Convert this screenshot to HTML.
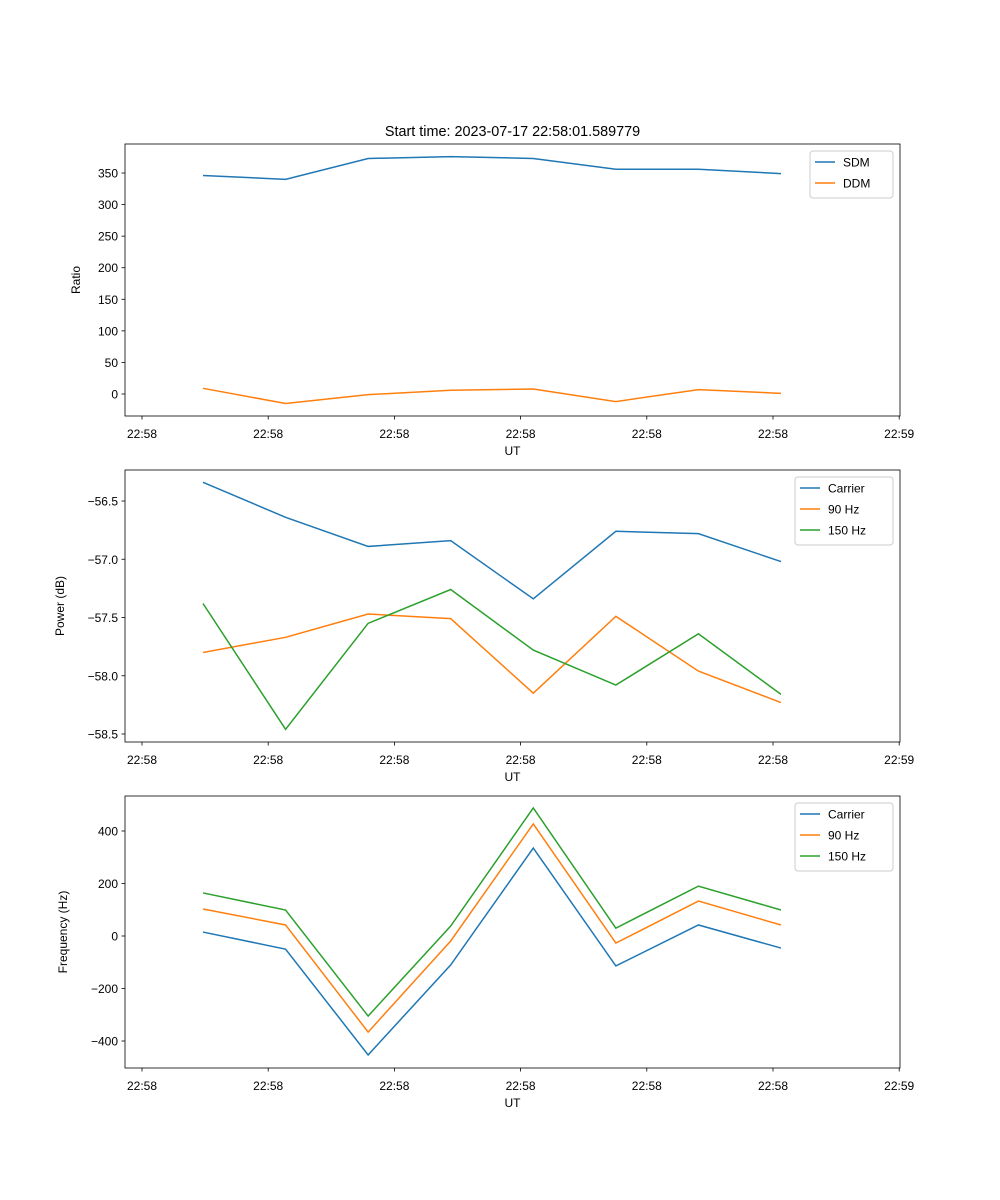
<!DOCTYPE html>
<html><head><meta charset="utf-8"><style>
body{margin:0;background:#fff}
svg{display:block;font-family:"Liberation Sans","DejaVu Sans",sans-serif}
</style></head><body>
<svg id="fig" width="1000" height="1200" viewBox="0 0 1000 1200" xmlns="http://www.w3.org/2000/svg"></svg>
<script>
const timeIndex=[0,1,2,3,4,5,6,7];
const xTickLabels=["22:58","22:58","22:58","22:58","22:58","22:58","22:59"];
const sdm=[346,340,373,376,373,356,356,349];
const ddm=[9,-15,-1,6,8,-12,7,1];
const powCarrier=[-56.34,-56.64,-56.89,-56.84,-57.34,-56.76,-56.78,-57.02];
const pow90=[-57.80,-57.67,-57.47,-57.51,-58.15,-57.49,-57.96,-58.23];
const pow150=[-57.38,-58.46,-57.55,-57.26,-57.78,-58.08,-57.64,-58.16];
const freqCarrier=[15,-50,-453,-110,335,-114,42,-46];
const freq90=[103,42,-366,-19,427,-27,133,42];
const freq150=[164,99,-305,38,488,30,190,99];
const ticks1=[0,50,100,150,200,250,300,350];
const ticks2=[-56.5,-57.0,-57.5,-58.0,-58.5];
const ticks3=[400,200,0,-200,-400];

const NS="http://www.w3.org/2000/svg";
const svg=document.getElementById('fig');
function el(tag,attrs,parent){const e=document.createElementNS(NS,tag);for(const k in attrs)e.setAttribute(k,attrs[k]);(parent||svg).appendChild(e);return e;}
const L=125,R=900;
const xs=i=>203+i*82.57;
const tickIdx=k=>(142-203)/82.57+k*1.5284;
const C={b:"#1f77b4",o:"#ff7f0e",g:"#2ca02c"};

function panel(name,top,bot,ys,yticks,fmt,ylabel,series,legend){
  const g=el('g',{});
  
  
  series.forEach(s=>{
    const p=el('polyline',{points:s.v.map((v,i)=>xs(timeIndex[i])+','+ys(v)).join(' '),fill:'none',stroke:s.c,'stroke-width':1.5},g);
    
    
  });
  const ax=el('rect',{x:L,y:top,width:R-L,height:bot-top,fill:'none',stroke:'#000','stroke-width':0.8},g);
  
  
  xTickLabels.forEach((t,k)=>{
    const x=xs(tickIdx(k));
    el('line',{x1:x,x2:x,y1:bot,y2:bot+3.5,stroke:'#000','stroke-width':0.8},g);
    const tx=el('text',{x:x,y:bot+22,'font-size':12,'text-anchor':'middle'},g);tx.textContent=t;
    
    
  });
  const xl=el('text',{x:(L+R)/2,y:bot+39,'font-size':12,'text-anchor':'middle'},g);xl.textContent='UT';
  
  
  yticks.forEach(v=>{
    const y=ys(v);
    el('line',{x1:L-3.5,x2:L,y1:y,y2:y,stroke:'#000','stroke-width':0.8},g);
    const tx=el('text',{x:L-7,y:y+4.5,'font-size':12,'text-anchor':'end'},g);tx.textContent=fmt(v);
    
    
  });
  const yl=el('text',{x:0,y:0,'font-size':12,'text-anchor':'middle',transform:`translate(${legend.yx},${(top+bot)/2}) rotate(-90)`},g);yl.textContent=ylabel;
  
  
  const lg=el('g',{},g);
  
  
  el('rect',{x:legend.x,y:top+7,width:R-7-legend.x,height:series.length*21+5,rx:3,fill:'#fff','fill-opacity':0.8,stroke:'#ccc'},lg);
  series.forEach((s,i)=>{
    const y=top+18+i*21;
    el('line',{x1:legend.x+5,x2:legend.x+25,y1:y,y2:y,stroke:s.c,'stroke-width':1.5},lg);
    const t=el('text',{x:legend.x+33,y:y+4.5,'font-size':12},lg);t.textContent=s.n;
    
    
  });
}
const t=el('text',{x:512.5,y:136,'font-size':14.4,'text-anchor':'middle'});t.textContent='Start time: 2023-07-17 22:58:01.589779';



panel('ratio',144,416,v=>394-v*31.57/50,ticks1,v=>String(v).replace('-','−'),'Ratio',
  [{n:'SDM',v:sdm,c:C.b},{n:'DDM',v:ddm,c:C.o}],{x:810,yx:80});
panel('power',470,742,v=>501+(-56.5-v)*116.5,ticks2,v=>v.toFixed(1).replace('-','−'),'Power (dB)',
  [{n:'Carrier',v:powCarrier,c:C.b},{n:'90 Hz',v:pow90,c:C.o},{n:'150 Hz',v:pow150,c:C.g}],{x:795,yx:64});
panel('frequency',796,1068,v=>936-v*105/400,ticks3,v=>String(v).replace('-','−'),'Frequency (Hz)',
  [{n:'Carrier',v:freqCarrier,c:C.b},{n:'90 Hz',v:freq90,c:C.o},{n:'150 Hz',v:freq150,c:C.g}],{x:795,yx:67});
</script>
</body></html>
